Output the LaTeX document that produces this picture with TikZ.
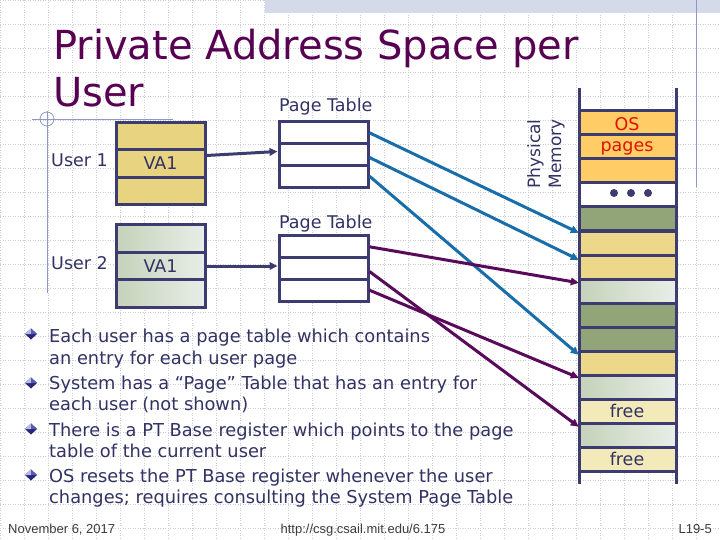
\documentclass[tikz,border=0pt]{standalone}
\usepackage{fontspec}
\setmainfont{DejaVu Sans}
\newfontfamily\footfont{Liberation Sans}
\usetikzlibrary{arrows.meta,calc}

\definecolor{navy}{RGB}{60,60,112}
\definecolor{txt}{RGB}{50,50,100}
\definecolor{ttl}{RGB}{88,0,82}
\definecolor{vayel}{RGB}{232,212,128}
\definecolor{osor}{RGB}{255,204,102}
\definecolor{grn}{RGB}{145,165,120}
\definecolor{ydot}{RGB}{237,216,138}
\definecolor{freec}{RGB}{242,234,185}
\definecolor{lgA}{RGB}{198,210,186}
\definecolor{lgB}{RGB}{232,238,232}
\definecolor{bluar}{RGB}{25,110,170}
\definecolor{purar}{RGB}{90,10,90}
\definecolor{osred}{RGB}{220,20,0}
\definecolor{gridc}{RGB}{205,205,215}
\definecolor{deco}{RGB}{140,150,200}
\definecolor{band}{RGB}{212,218,234}
\definecolor{footc}{RGB}{60,60,60}
\definecolor{bdark}{RGB}{40,40,120}
\definecolor{bmid}{RGB}{90,90,180}
\definecolor{blight}{RGB}{185,185,235}

\tikzset{
  lbl/.style={font=\fontsize{17.5}{21}\selectfont, text=txt, inner sep=0pt},
  bul/.style={font=\fontsize{17.8}{21}\selectfont, text=txt, inner sep=0pt, anchor=base west},
  foot/.style={font=\footfont\fontsize{13}{15}\selectfont, text=footc, inner sep=0pt},
  varow/.style={draw=navy, line width=3pt, minimum width=89pt, minimum height=27.5pt, inner sep=0pt, font=\fontsize{17.5}{21}\selectfont, text=txt},
  ptrow/.style={draw=navy, line width=3pt, minimum width=89pt, minimum height=21.7pt, inner sep=0pt, fill=white},
  memrow/.style={minimum width=97pt, minimum height=24pt, inner sep=0pt, draw=none},
  lgshade/.style={left color=lgA, right color=lgB},
  ptr/.style={line width=3pt, -{Triangle[length=8pt,width=7.5pt]}},
  memline/.style={navy, line width=3pt},
  decoline/.style={deco, line width=0.8pt},
}

\begin{document}
\begin{tikzpicture}[x=1pt,y=-1pt]
\useasboundingbox (0,0) rectangle (720,540);
\fill[white] (0,0) rectangle (720,540);
% background grid
\foreach \g in {0,24,...,720} \draw[gridc, dotted, line width=0.5pt] (\g,0) -- (\g,540);
\foreach \g in {0,24,...,540} \draw[gridc, dotted, line width=0.5pt] (0,\g) -- (720,\g);
% decorations
\fill[band] (265,0) rectangle (720,13);
\draw[decoline] (696,0) -- (696,187);
\draw[decoline] (32,119) -- (173,119);
\draw[decoline] (47,111) -- (47,293);
\draw[decoline] (47,119) circle (7);

% title
\node[font=\fontsize{40}{47}\selectfont, text=ttl, anchor=base west, inner sep=0pt] (t1) at (53,60) {Private Address Space per};
\node[font=\fontsize{40}{47}\selectfont, text=ttl, anchor=base west, inner sep=0pt] (t2) at (53,107) {User};

% user labels
\node[lbl, anchor=base west] (u1) at (51,167) {User 1};
\node[lbl, anchor=base west] (u2) at (51,269) {User 2};

% user 1 virtual space
\node[varow, fill=vayel] (u1r0) at (160.5,135.8) {};
\node[varow, fill=vayel] (u1r1) at (160.5,163.5) {VA1};
\node[varow, fill=vayel] (u1r2) at (160.5,191.2) {};
% user 2 virtual space
\node[varow, lgshade] (u2r0) at (160.5,238.7) {};
\node[varow, lgshade] (u2r1) at (160.5,266) {VA1};
\node[varow, lgshade] (u2r2) at (160.5,293.3) {};

% page tables
\node[lbl, anchor=base west] (pt1l) at (279,112) {Page Table};
\node[ptrow] (pt1r0) at (323.5,132.8) {};
\node[ptrow] (pt1r1) at (323.5,154.5) {};
\node[ptrow] (pt1r2) at (323.5,176.2) {};
\node[lbl, anchor=base west] (pt2l) at (279,229) {Page Table};
\node[ptrow] (pt2r0) at (323.5,246.8) {};
\node[ptrow] (pt2r1) at (323.5,268.5) {};
\node[ptrow] (pt2r2) at (323.5,290.2) {};

% physical memory label
\node[font=\fontsize{17}{21}\selectfont, text=txt, inner sep=0pt, rotate=90, align=center] (pml) at (546,154) {Physical\\Memory};

% physical memory rows
\node[memrow, fill=osor]  (m0)  at (627.5,123) {};
\node[memrow, fill=osor]  (m1)  at (627.5,147) {};
\node[memrow, fill=osor]  (m2)  at (627.5,171) {};
\node[memrow, fill=white] (m3)  at (627.5,195) {};
\node[memrow, fill=grn]   (m4)  at (627.5,219) {};
\node[memrow, fill=ydot]  (m5)  at (627.5,243) {};
\node[memrow, fill=ydot]  (m6)  at (627.5,267) {};
\node[memrow, lgshade]    (m7)  at (627.5,291) {};
\node[memrow, fill=grn]   (m8)  at (627.5,315) {};
\node[memrow, fill=grn]   (m9)  at (627.5,339) {};
\node[memrow, fill=ydot]  (m10) at (627.5,363) {};
\node[memrow, lgshade]    (m11) at (627.5,387) {};
\node[memrow, fill=freec] (m12) at (627.5,411) {};
\node[memrow, lgshade]    (m13) at (627.5,435) {};
\node[memrow, fill=freec] (m14) at (627.5,459) {};
\foreach \k in {0,...,15} \draw[memline] (579,111+24*\k) -- (676,111+24*\k);
\draw[memline] (579,88) -- (579,484);
\draw[memline] (676,88) -- (676,484);

% memory texts
\node[lbl, text=osred, anchor=base] (os1) at (627,131) {OS};
\node[lbl, text=osred, anchor=base] (os2) at (627,152) {pages};
\fill[navy] (614,193) circle (4);
\fill[navy] (631,193) circle (4);
\fill[navy] (648,193) circle (4);
\node[lbl, anchor=base] (fr1) at (627,417) {free};
\node[lbl, anchor=base] (fr2) at (627,465) {free};

% VA -> page table
\draw[ptr, navy] ([yshift=8pt]u1r1.east) -- ([yshift=3pt]pt1r1.west);
\draw[ptr, navy] (u2r1.east) -- (u2r1.east -| pt2r1.west);

% page table 1 -> memory (blue)
\draw[ptr, bluar] (pt1r0.east) -- ([yshift=-2pt]m5.north west);
\draw[ptr, bluar] ([yshift=-3pt]pt1r1.east) -- ([yshift=-5pt]m6.north west);
\draw[ptr, bluar] (pt1r2.east) -- ([yshift=-4pt]m10.north west);
% page table 2 -> memory (purple)
\draw[ptr, purar] (pt2r0.east) -- ([yshift=-4pt]m7.north west);
\draw[ptr, purar] ([yshift=-3pt]pt2r1.east) -- ([yshift=-4pt]m13.north west);
\draw[ptr, purar] (pt2r2.east) -- ([yshift=-3pt]m11.north west);

% bullets
\foreach \yb in {334,383,429,475} {
  \fill[bdark] (25,\yb) -- (31,\yb-5.5) -- (37,\yb) -- (31,\yb+5.5) -- cycle;
  \fill[blight] (25,\yb) -- (31,\yb-5.5) -- (31,\yb) -- cycle;
  \fill[bmid] (31,\yb-5.5) -- (37,\yb) -- (31,\yb) -- cycle;
}
\node[bul] (b1a) at (49,342) {Each user has a page table which contains};
\node[bul] (b1b) at (49,364) {an entry for each user page};
\node[bul] (b2a) at (49,389) {System has a “Page” Table that has an entry for};
\node[bul] (b2b) at (49,410) {each user (not shown)};
\node[bul] (b3a) at (49,436) {There is a PT Base register which points to the page};
\node[bul] (b3b) at (49,457) {table of the current user};
\node[bul] (b4a) at (49,482) {OS resets the PT Base register whenever the user};
\node[bul] (b4b) at (49,503) {changes; requires consulting the System Page Table};

% footer
\node[foot, anchor=base west] (f1) at (8,533) {November 6, 2017};
\node[foot, anchor=base] (f2) at (363,533) {http://csg.csail.mit.edu/6.175};
\node[foot, anchor=base east] (f3) at (712,533) {L19-5};
\end{tikzpicture}
\end{document}
